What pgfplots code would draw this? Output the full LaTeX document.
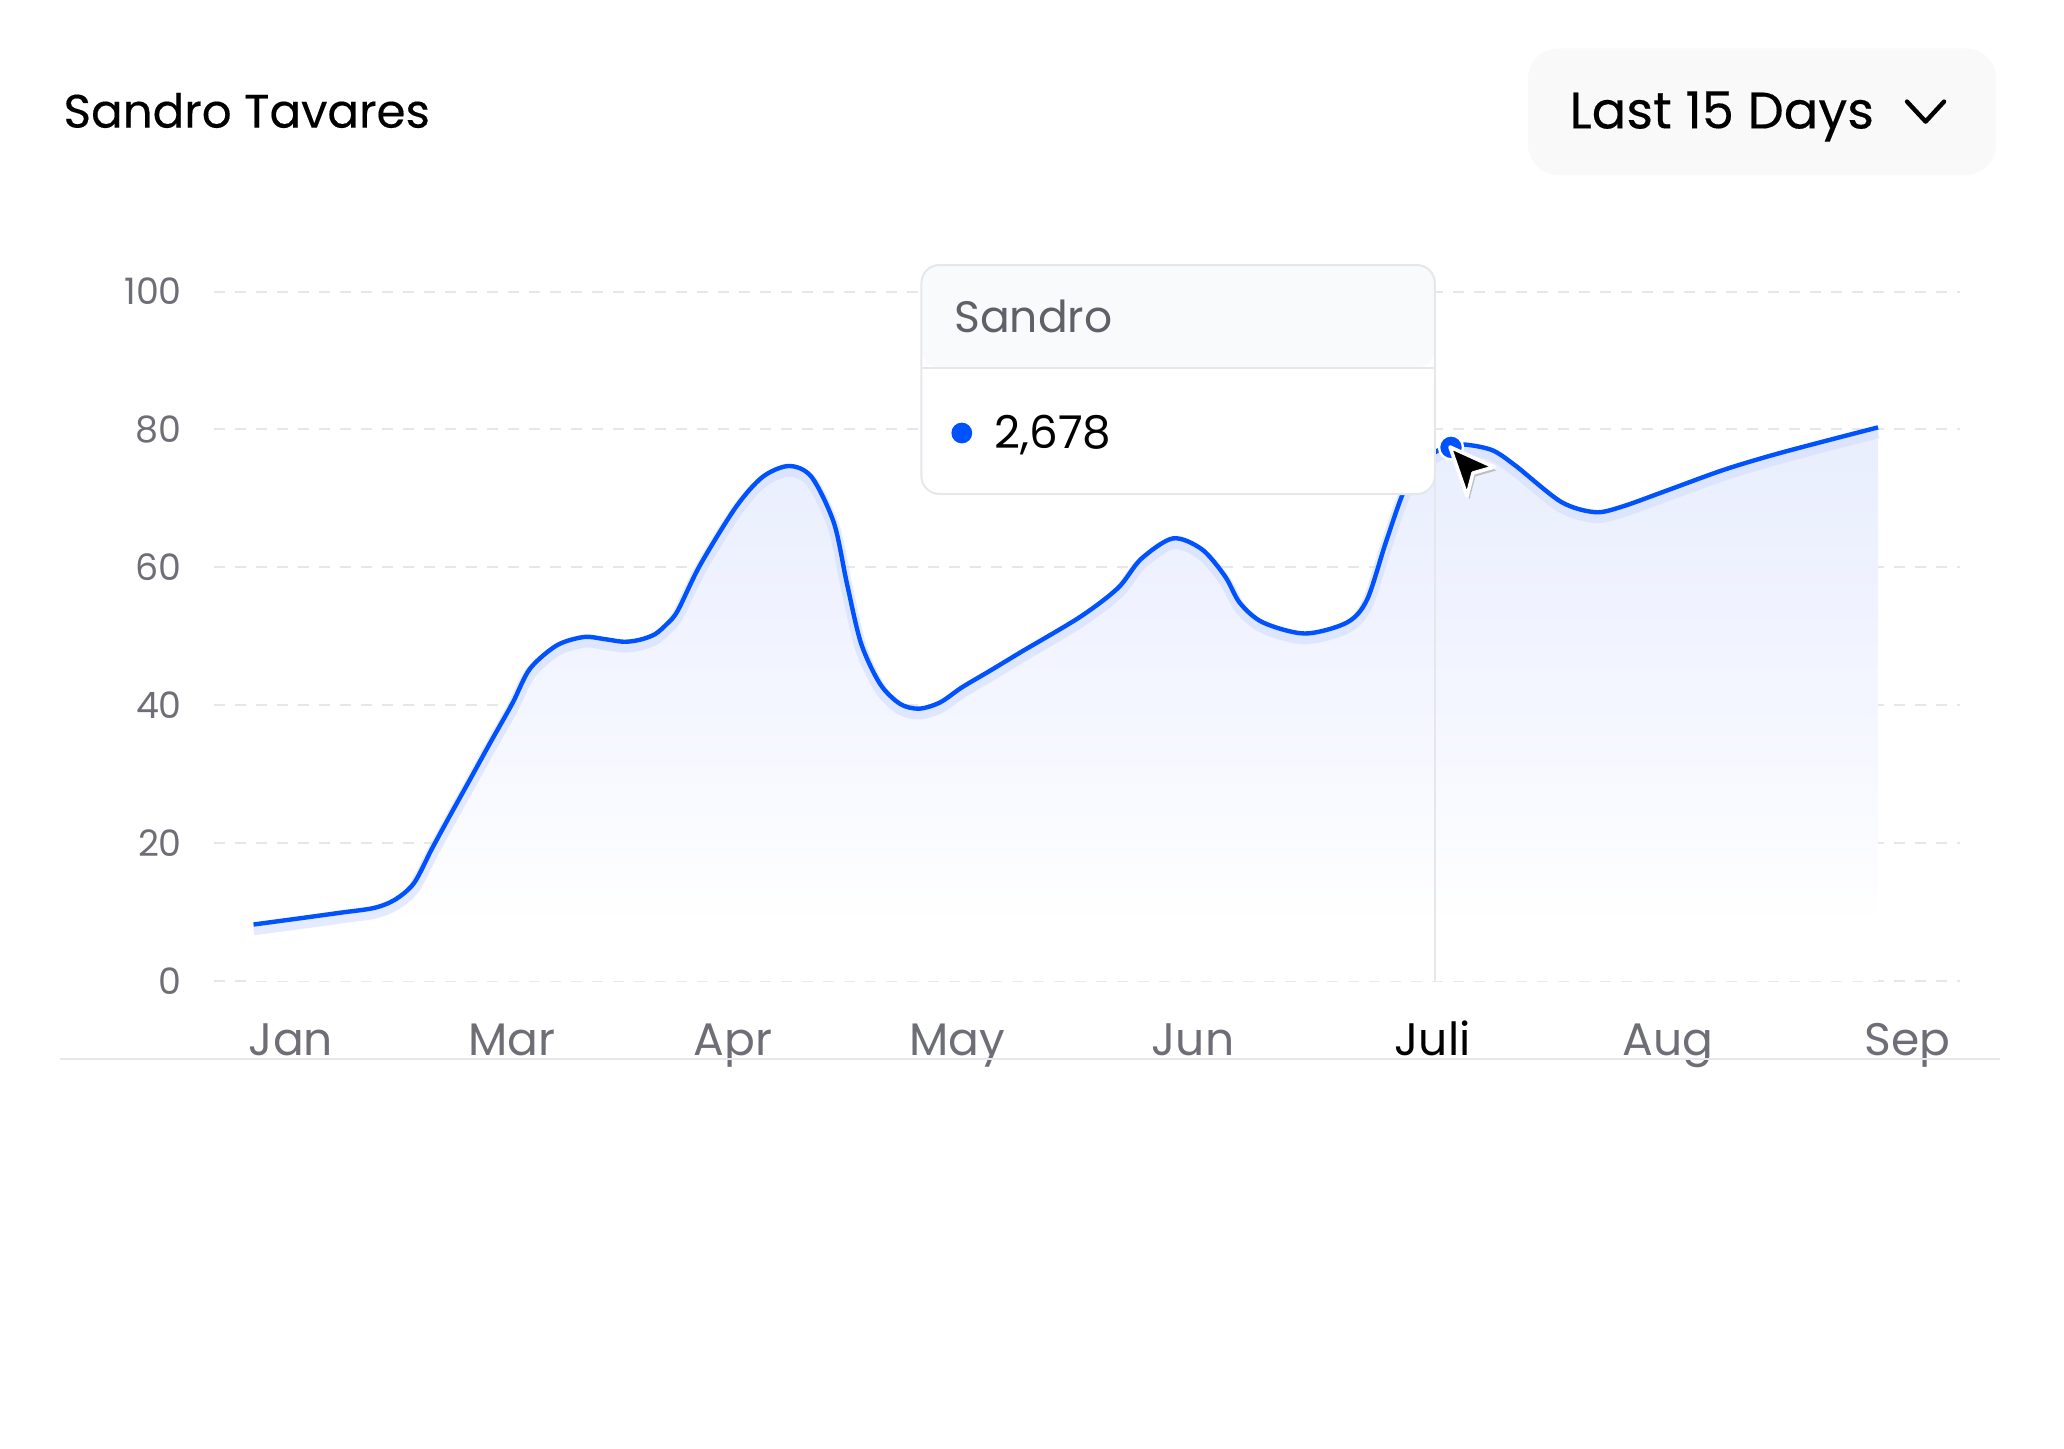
\documentclass[border=0pt]{standalone}
\usepackage{pgfplots}
\pgfplotsset{compat=1.18}
\usepackage{fontspec}
\setmainfont{Poppins}
\newfontfamily\headfont[FakeBold=0.3]{Poppins}

\definecolor{lineblue}{HTML}{0052FF}
\definecolor{glowblue}{HTML}{D2DCFF}
\definecolor{gridc}{HTML}{E5E7EB}
\definecolor{tickc}{HTML}{6E6E76}
\definecolor{fadeT}{HTML}{EAEFFE}
\definecolor{fadeM}{HTML}{F4F6FF}
\definecolor{btnbg}{HTML}{F9F9FA}
\definecolor{tiphead}{HTML}{F9FAFB}
\definecolor{tipgray}{HTML}{5F6168}

% shading stretched over the fill's bounding box (25bp = value 0, 75bp = top)
\pgfdeclareverticalshading{areafade}{100bp}{color(0bp)=(white); color(30bp)=(white);
  color(50bp)=(fadeM); color(72bp)=(fadeT); color(100bp)=(fadeT)}

% x in picture pixels, y in chart units
\pgfplotstableread{
x y
253.6 8.2
300 9.1
340 9.9
374 10.6
395 11.8
414 14.2
432 19.2
450 24.0
468 28.7
490 34.5
512.5 40.3
530 45.3
557 48.7
584 49.9
604 49.6
624 49.2
640 49.5
655 50.3
667 51.8
677.7 53.7
700 60.3
735.7 68.7
762.5 73.1
789 74.7
811.6 73.1
834 66.4
847 57.6
861 49.0
880 43.1
900 40.2
919 39.5
940 40.4
962 42.6
990 45.0
1022 47.8
1080 52.8
1118 57.0
1141 61.2
1173 64.2
1202 62.6
1225 58.7
1240 54.8
1263 52.0
1305 50.4
1347 52.0
1367 55.3
1386 63.7
1405 71.4
1425 75.5
1440 77.1
1451 77.4
1465 77.8
1492 77.0
1515 74.8
1561 69.5
1595 68.0
1622 68.8
1668 71.2
1725 74.2
1783 76.7
1878 80.3
}\sandro

\begin{document}
\begin{tikzpicture}
\path[use as bounding box] (0,0) rectangle (516pt,-362pt);

% header
\node[anchor=base west, inner sep=0pt, font=\headfont\fontsize{11.7}{14}\selectfont]
  at (15.7pt,-31.9pt) {Sandro Tavares};
\fill[btnbg, rounded corners=7.5pt] (382pt,-12.1pt) rectangle (499pt,-43.75pt);
\node[anchor=base west, inner sep=0pt, font=\headfont\fontsize{12.8}{14}\selectfont]
  at (392.2pt,-32.1pt) {Last 15 Days};
\draw[line width=1.1pt, line cap=round, line join=round]
  (476.75pt,-25.4pt) -- (481.4pt,-30.4pt) -- (486pt,-25.4pt);

\begin{axis}[
  at={(53.5pt,-245.25pt)}, anchor=south west,
  scale only axis, width=436.5pt, height=172.375pt,
  xmin=214, xmax=1960, ymin=0, ymax=100,
  axis line style={draw=none},
  major tick length=0pt,
  ytick={0,20,...,100},
  xtick={291,512,733,957.6,1193,1432.6,1668,1907.8},
  xticklabels={Jan,Mar,Apr,May,Jun,\textcolor{black}{Juli},Aug,Sep},
  ymajorgrids,
  grid style={gridc, line width=0.5pt, dash pattern=on 2.8pt off 2.45pt},
  /pgf/number format/assume math mode=true,
  yticklabel style={font=\fontsize{9.1}{11}\selectfont, color=tickc,
    anchor=east, inner sep=0pt, xshift=-7.85pt},
  xticklabel style={font=\fontsize{11.4}{13}\selectfont, color=tickc,
    anchor=base, inner sep=0pt, yshift=-18.5pt},
]
\addplot[draw=none, shading=areafade, smooth, tension=0.5]
  table[x=x, y=y] {\sandro} \closedcycle;
\draw[gridc, line width=0.5pt] (axis cs:1435,0) -- (axis cs:1435,77);
\addplot[glowblue, line width=3pt, opacity=0.6, smooth, tension=0.5,
  yshift=-1.2pt] table[x=x, y=y] {\sandro};
\addplot[lineblue, line width=1.1pt, smooth, tension=0.5] table[x=x, y=y] {\sandro};
\addplot[only marks, mark=*, mark size=3pt,
  mark options={fill=lineblue, draw=white, line width=0.6pt}]
  coordinates {(1451,77.4)};
\end{axis}

% tooltip
\fill[tiphead, rounded corners=4.5pt] (230.35pt,-91.9pt) |- (358.7pt,-66.25pt) -- (358.7pt,-91.9pt) -- cycle;
\fill[white, rounded corners=4.5pt] (230.35pt,-91.9pt) |- (358.7pt,-123.5pt) -- (358.7pt,-91.9pt) -- cycle;
\draw[gridc, line width=0.5pt, rounded corners=4.5pt] (230.35pt,-66.25pt) rectangle (358.7pt,-123.5pt);
\draw[gridc, line width=0.5pt] (230.35pt,-91.9pt) -- (358.7pt,-91.9pt);
\node[anchor=base west, inner sep=0pt, font=\fontsize{11}{13}\selectfont, text=tipgray]
  at (238.4pt,-83.1pt) {Sandro};
\fill[lineblue] (240.45pt,-108.25pt) circle (2.6pt);
\node[anchor=base west, inner sep=0pt, font=\fontsize{11.3}{13}\selectfont]
  at (248.4pt,-112.1pt) {2,678};

% cursor
\fill[black!25] (363.1pt,-112.6pt) -- (374.1pt,-117.6pt) -- (368.85pt,-119.1pt) -- (367.35pt,-124.85pt) -- cycle;
\filldraw[fill=black, draw=white, line width=0.9pt, line join=round]
  (362.5pt,-111.75pt) -- (373.5pt,-116.75pt) -- (368.25pt,-118.25pt) -- (366.75pt,-124pt) -- cycle;

% bottom rule
\draw[gridc, line width=0.5pt] (15pt,-264.75pt) -- (500pt,-264.75pt);
\end{tikzpicture}
\end{document}
